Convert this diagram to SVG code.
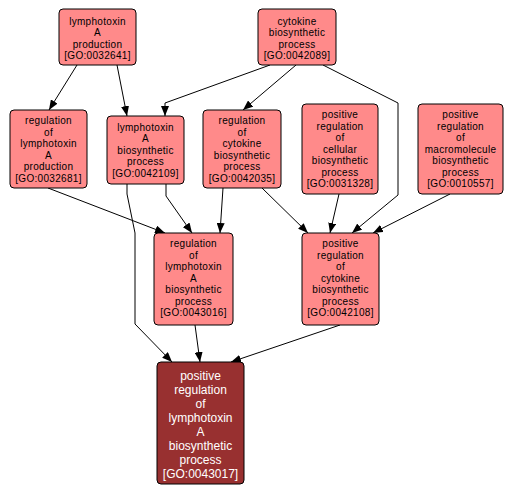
<svg xmlns="http://www.w3.org/2000/svg" width="515" height="495" viewBox="0 0 515 495">
<style>
.n rect{fill:#ff8a8a;stroke:#000;stroke-width:1}
.n text{font-family:"Liberation Sans",Arial,sans-serif;font-size:10px;fill:#000;text-anchor:middle;letter-spacing:0.3px}
.d rect{fill:#983030;stroke:#000;stroke-width:1}
.d text{font-family:"Liberation Sans",Arial,sans-serif;font-size:12px;fill:#fff;text-anchor:middle}
.e path{fill:none;stroke:#000;stroke-width:1;marker-end:url(#a)}
</style>
<defs>
<marker id="a" markerUnits="userSpaceOnUse" markerWidth="10" markerHeight="8" refX="10" refY="4" orient="auto">
<path d="M0,0 L10,4 L0,8 z" fill="#000"/>
</marker>
</defs>
<rect width="515" height="495" fill="#fff"/>
<g id="edges" class="e">
<path d="M77,65 L49,110"/>
<path d="M117,65 L127,116"/>
<path d="M270,65 L165,103 L165,116"/>
<path d="M296,65 L243,110"/>
<path d="M323,65 L398,103 L398,195 L352,233"/>
<path d="M48,188 L165,233"/>
<path d="M166,184 L166,196 L192,233"/>
<path d="M223,188 L220,233"/>
<path d="M262,188 L308,233"/>
<path d="M339,194 L330,233"/>
<path d="M450,194 L373,233"/>
<path d="M127,184 L127,194 L135,233 L135,324 L172,362"/>
<path d="M195,325 L200,362"/>
<path d="M340,325 L231,362"/>
</g>
<g id="n1" class="n"><rect x="59" y="9" width="77" height="56" rx="4"/>
<text x="97.5" y="24.5">lymphotoxin</text><text x="97.5" y="36">A</text><text x="97.5" y="47.5">production</text><text x="97.5" y="59">[GO:0032641]</text></g>
<g id="n2" class="n"><rect x="258" y="9" width="78" height="56" rx="4"/>
<text x="297" y="24.5">cytokine</text><text x="297" y="36">biosynthetic</text><text x="297" y="47.5">process</text><text x="297" y="59">[GO:0042089]</text></g>
<g id="n3" class="n"><rect x="10" y="110" width="77" height="78" rx="4"/>
<text x="48.5" y="124">regulation</text><text x="48.5" y="135.5">of</text><text x="48.5" y="147">lymphotoxin</text><text x="48.5" y="158.5">A</text><text x="48.5" y="170">production</text><text x="48.5" y="181.5">[GO:0032681]</text></g>
<g id="n4" class="n"><rect x="107" y="116" width="77" height="68" rx="4"/>
<text x="145.5" y="130.5">lymphotoxin</text><text x="145.5" y="142">A</text><text x="145.5" y="153.5">biosynthetic</text><text x="145.5" y="165">process</text><text x="145.5" y="176.5">[GO:0042109]</text></g>
<g id="n5" class="n"><rect x="203" y="110" width="78" height="78" rx="4"/>
<text x="242" y="124">regulation</text><text x="242" y="135.5">of</text><text x="242" y="147">cytokine</text><text x="242" y="158.5">biosynthetic</text><text x="242" y="170">process</text><text x="242" y="181.5">[GO:0042035]</text></g>
<g id="n6" class="n"><rect x="302" y="104" width="76" height="90" rx="4"/>
<text x="340" y="118">positive</text><text x="340" y="129.5">regulation</text><text x="340" y="141">of</text><text x="340" y="152.5">cellular</text><text x="340" y="164">biosynthetic</text><text x="340" y="175.5">process</text><text x="340" y="187">[GO:0031328]</text></g>
<g id="n7" class="n"><rect x="418" y="104" width="85" height="90" rx="4"/>
<text x="460.5" y="118">positive</text><text x="460.5" y="129.5">regulation</text><text x="460.5" y="141">of</text><text x="460.5" y="152.5">macromolecule</text><text x="460.5" y="164">biosynthetic</text><text x="460.5" y="175.5">process</text><text x="460.5" y="187">[GO:0010557]</text></g>
<g id="n8" class="n"><rect x="154" y="233" width="79" height="92" rx="4"/>
<text x="193.5" y="247">regulation</text><text x="193.5" y="258.5">of</text><text x="193.5" y="270">lymphotoxin</text><text x="193.5" y="281.5">A</text><text x="193.5" y="293">biosynthetic</text><text x="193.5" y="304.5">process</text><text x="193.5" y="316">[GO:0043016]</text></g>
<g id="n9" class="n"><rect x="302" y="233" width="77" height="92" rx="4"/>
<text x="340.5" y="247">positive</text><text x="340.5" y="258.5">regulation</text><text x="340.5" y="270">of</text><text x="340.5" y="281.5">cytokine</text><text x="340.5" y="293">biosynthetic</text><text x="340.5" y="304.5">process</text><text x="340.5" y="316">[GO:0042108]</text></g>
<g id="n10" class="d"><rect x="157" y="362" width="87" height="122" rx="4"/>
<text x="200.5" y="380">positive</text><text x="200.5" y="394">regulation</text><text x="200.5" y="408">of</text><text x="200.5" y="422">lymphotoxin</text><text x="200.5" y="436">A</text><text x="200.5" y="450">biosynthetic</text><text x="200.5" y="464">process</text><text x="200.5" y="478">[GO:0043017]</text></g>
</svg>
